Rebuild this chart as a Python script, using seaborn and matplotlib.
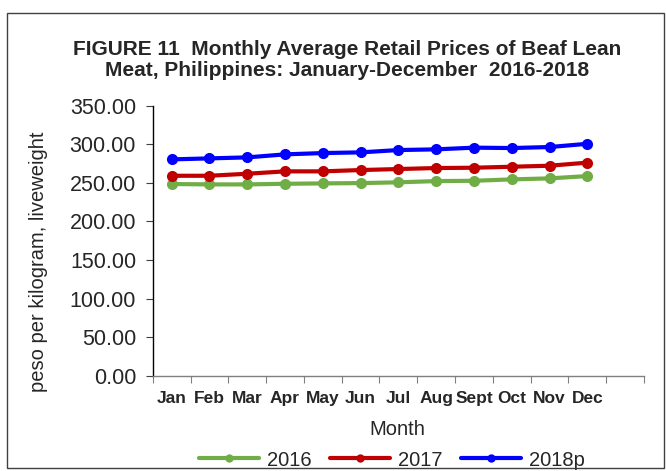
import pandas as pd
import matplotlib
matplotlib.use('Agg')
import matplotlib.pyplot as plt
import matplotlib.patches as patches
import seaborn as sns

# Chart values
months = ['Jan', 'Feb', 'Mar', 'Apr', 'May', 'Jun', 'Jul', 'Aug', 'Sept', 'Oct', 'Nov', 'Dec']
years = ['2016', '2017', '2018p']
price_2016 = [248.3, 247.8, 247.8, 248.6, 249.1, 249.5, 250.5, 252.1, 252.5, 254.3, 255.6, 258.6]
price_2017 = [259.0, 259.0, 261.6, 264.7, 264.7, 266.4, 267.7, 269.0, 269.4, 270.7, 272.0, 276.0]
price_2018 = [280.2, 281.5, 282.8, 286.7, 288.4, 289.3, 292.3, 293.2, 295.4, 294.9, 296.2, 300.4]
colors = ['#70AD47', '#C00000', '#0000FF']
yticks = [0, 50, 100, 150, 200, 250, 300, 350]

# Long format table for seaborn
df = pd.DataFrame({
    'Month': months * 3,
    'Price': price_2016 + price_2017 + price_2018,
    'Year': [y for y in years for _ in months],
})

sns.set_style('white')
plt.rcParams['font.family'] = ['Liberation Sans', 'DejaVu Sans']

fig = plt.figure(figsize=(6.66, 4.71), dpi=100)
ax = fig.add_axes([0.2293, 0.2023, 0.7377, 0.5737])

sns.lineplot(data=df, x='Month', y='Price', hue='Year', palette=colors,
             marker='o', markersize=8, markeredgewidth=0, linewidth=3,
             legend=False, ax=ax)

# axes limits and ticks (13 category slots, last one empty)
ax.set_xlim(-0.5, 12.5)
ax.set_ylim(0, 350)
ax.set_xticks([i - 0.5 for i in range(14)])
ax.set_xticklabels([])
ax.set_xticks(range(len(months)), minor=True)
ax.set_xticklabels(months, minor=True, fontsize=12.5, fontweight='bold')
ax.tick_params(axis='x', which='major', direction='out', length=5, color='#808080', bottom=True)
ax.tick_params(axis='x', which='minor', length=0, pad=11)
ax.set_yticks(yticks)
ax.set_yticklabels([f'{v:.2f}' for v in yticks], fontsize=15.5)
ax.tick_params(axis='y', direction='out', length=5, color='#404040', left=True, pad=7)

for s in ['top', 'right']:
    ax.spines[s].set_visible(False)
ax.spines['left'].set_color('black')
ax.spines['bottom'].set_color('#808080')
ax.spines['left'].set_linewidth(1)
ax.spines['bottom'].set_linewidth(1)

ax.set_xlabel('Month', fontsize=14.5)
ax.xaxis.set_label_coords(0.497, -0.164)
ax.set_ylabel('peso per kilogram, liveweight', fontsize=14.5)
ax.yaxis.set_label_coords(-0.213, 0.421)

fig.text(347 / 666, 1 - 60 / 471,
         'FIGURE 11  Monthly Average Retail Prices of Beaf Lean\nMeat, Philippines: January-December  2016-2018',
         ha='center', va='center', fontsize=15, fontweight='bold', linespacing=1.1)

leg = ax.legend(handles=ax.lines[:3], labels=years, loc='center',
                bbox_to_anchor=(392 / 666, 1 - 460 / 471), bbox_transform=fig.transFigure,
                ncol=3, frameon=False, fontsize=14.5, handlelength=3, columnspacing=0.9,
                handletextpad=0.4)
for h in leg.legend_handles:
    h.set_markersize(6)

# outer chart border
fig.patches.append(patches.Rectangle((7 / 666, 3 / 471), 657 / 666, 455 / 471,
                                     transform=fig.transFigure, fill=False,
                                     edgecolor='#404040', linewidth=1))

fig.savefig('out.png', dpi=100)
